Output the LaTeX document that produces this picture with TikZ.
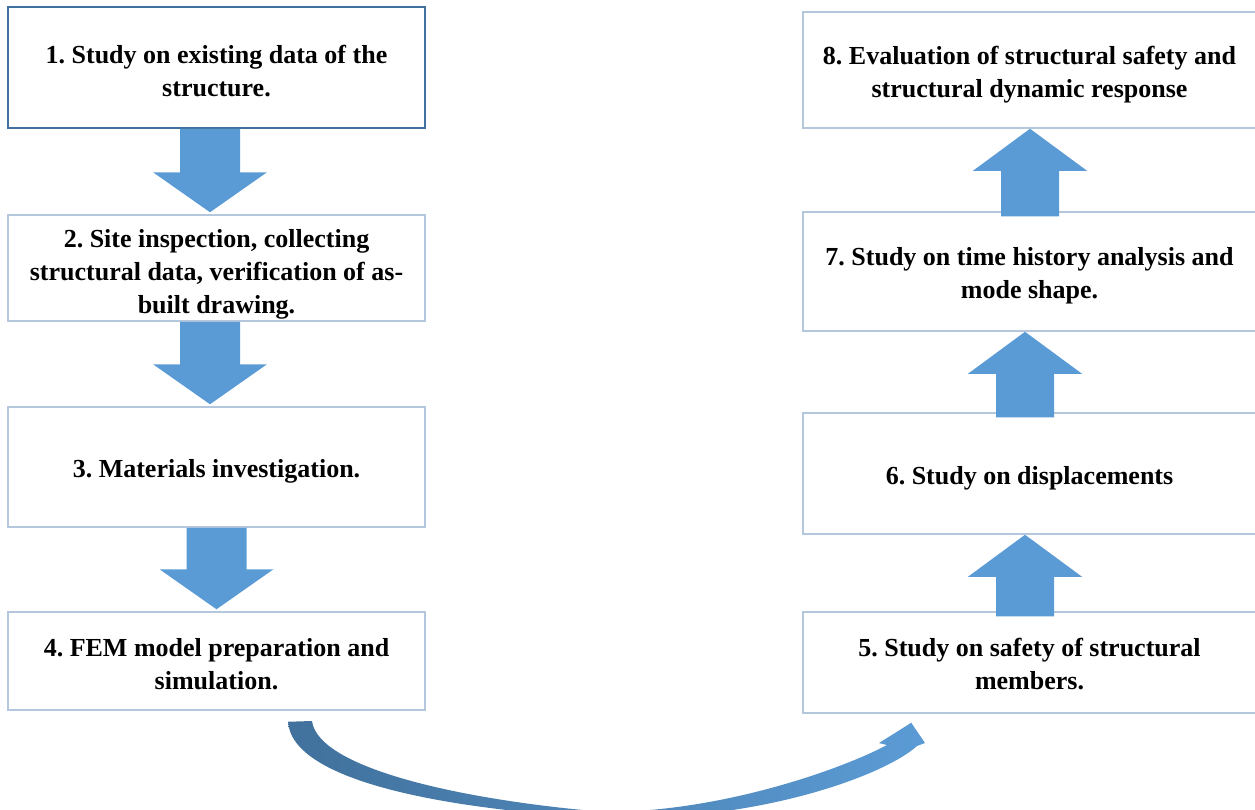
\documentclass[tikz,border=0pt]{standalone}
\usepackage{fontspec}
\setmainfont{Liberation Serif}
\usetikzlibrary{calc}
\frenchspacing
\definecolor{blk}{HTML}{5B9BD5}
\definecolor{boxline}{HTML}{B4C7DC}
\definecolor{boxdark}{HTML}{41719C}
\definecolor{curvedark}{HTML}{41719C}
\newcommand\downblock[3]{%
  \fill[blockarrow] ($(#1.south)+(#3-30,0)$) -- ($(#1.south)+(#3+30,0)$)
    -- ($(#2.north)+(#3+30,-42)$) -- ($(#2.north)+(#3+57,-42)$)
    -- ($(#2.north)+(#3,-2)$) -- ($(#2.north)+(#3-57,-42)$)
    -- ($(#2.north)+(#3-30,-42)$) -- cycle;}
\newcommand\upblock[3]{%
  \fill[blockarrow] ($(#1.north)+(#3-29,5)$) -- ($(#1.north)+(#3+29,5)$)
    -- ($(#2.south)+(#3+29,42)$) -- ($(#2.south)+(#3+57,42)$)
    -- ($(#2.south)+(#3,0)$) -- ($(#2.south)+(#3-57,42)$)
    -- ($(#2.south)+(#3-29,42)$) -- cycle;}
\begin{document}
\begin{tikzpicture}[x=1pt,y=-1pt,
  stepbox/.style={draw=boxline, line width=1.5pt, fill=white, inner sep=0pt},
  steptext/.style={align=center, inner sep=0pt, text=black,
    font=\bfseries\fontsize{26}{33}\selectfont},
  blockarrow/.style={fill=blk, draw=none}]
\useasboundingbox (0,0) rectangle (1255,809);
% left column boxes
\node[stepbox, draw=boxdark, minimum width=417pt, minimum height=121pt] (b1) at (216.5,67.5) {};
\node[stepbox, minimum width=417pt, minimum height=106pt] (b2) at (216.5,268) {};
\node[stepbox, minimum width=417pt, minimum height=120pt] (b3) at (216.5,467) {};
\node[stepbox, minimum width=417pt, minimum height=98pt] (b4) at (216.5,661) {};
% right column boxes
\node[stepbox, minimum width=453pt, minimum height=101pt] (b5) at (1029.5,662.5) {};
\node[stepbox, minimum width=453pt, minimum height=121pt] (b6) at (1029.5,473.5) {};
\node[stepbox, minimum width=453pt, minimum height=119pt] (b7) at (1029.5,271.5) {};
\node[stepbox, minimum width=453pt, minimum height=116pt] (b8) at (1029.5,70) {};
% texts
\node[steptext] (t1) at ($(b1.center)+(0,4)$) {1. Study on existing data of the\\structure.};
\node[steptext] (t2) at ($(b2.center)+(0,6)$) {2. Site inspection, collecting\\structural data, verification of as-\\built drawing.};
\node[steptext] (t3) at ($(b3.center)+(0,4.5)$) {3. Materials investigation.};
\node[steptext] (t4) at ($(b4.center)+(0,3)$) {4. FEM model preparation and\\simulation.};
\node[steptext] (t5) at ($(b5.center)+(0,1.5)$) {5. Study on safety of structural\\members.};
\node[steptext] (t6) at ($(b6.center)+(0,4.5)$) {6. Study on displacements};
\node[steptext] (t7) at ($(b7.center)+(0,4)$) {7. Study on time history analysis and\\mode shape.};
\node[steptext] (t8) at ($(b8.center)+(0,4.5)$) {8. Evaluation of structural safety and\\structural dynamic response};
% block arrows
\downblock{b1}{b2}{-6.5}
\downblock{b2}{b3}{-6.5}
\downblock{b3}{b4}{0}
\upblock{b5}{b6}{-4.5}
\upblock{b6}{b7}{-4.5}
\upblock{b7}{b8}{0.5}
% curved arrow from b4 to b5
\coordinate (cstart) at ($(b4.south)+(71.5,11)$);
\coordinate (ctip) at ($(b5.south west)+(109,9)$);
\shade[left color=curvedark, right color=blk]
  (cstart) -- (312,721)
  .. controls (318,768) and (460,800) .. (605,812)
  .. controls (720,812) and (840,770) .. (887,745)
  -- (879,743) -- (ctip) -- (925,743) -- (917,746)
  .. controls (885,775) and (760,822) .. (605,818)
  .. controls (450,810) and (292,782) .. (cstart) -- cycle;
\end{tikzpicture}
\end{document}
